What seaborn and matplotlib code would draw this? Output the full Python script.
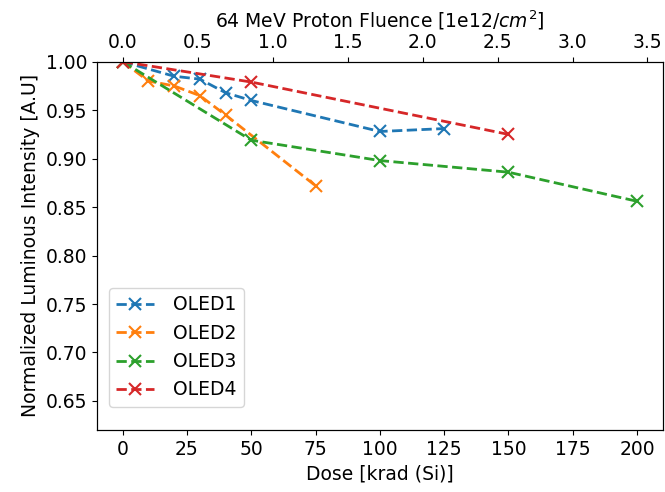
import matplotlib
matplotlib.use("Agg")
import matplotlib.pyplot as plt
import seaborn as sns
import pandas as pd

# Data
oled1_dose = [0, 20, 30, 40, 50, 100, 125]
oled1_val = [1.000, 0.985, 0.982, 0.968, 0.960, 0.928, 0.931]
oled2_dose = [0, 10, 20, 30, 40, 75]
oled2_val = [1.000, 0.980, 0.975, 0.965, 0.945, 0.872]
oled3_dose = [0, 50, 100, 150, 200]
oled3_val = [1.000, 0.919, 0.898, 0.886, 0.856]
oled4_dose = [0, 50, 150]
oled4_val = [1.000, 0.979, 0.925]
labels = ["OLED1", "OLED2", "OLED3", "OLED4"]
fluence_per_krad = 0.01715

sns.set_style("ticks", {"axes.edgecolor": "black", "text.color": "black",
                        "axes.labelcolor": "black", "xtick.color": "black",
                        "ytick.color": "black"})
plt.rcParams["font.family"] = ["DejaVu Sans"]
plt.rcParams["font.size"] = 13.5

fig = plt.figure(figsize=(6.65, 4.92), dpi=100)
ax = fig.add_axes([97/665, 1-430/492, (662.7-97)/665, (430-61.7)/492])

frames = []
for lab, d, v in zip(labels, [oled1_dose, oled2_dose, oled3_dose, oled4_dose],
                     [oled1_val, oled2_val, oled3_val, oled4_val]):
    frames.append(pd.DataFrame({"dose": d, "val": v, "device": lab}))
df = pd.concat(frames, ignore_index=True)

palette = sns.color_palette("tab10", 4)
for lab, col in zip(labels, palette):
    sub = df[df.device == lab]
    sns.lineplot(data=sub, x="dose", y="val", ax=ax, color=col, linestyle="--",
                 marker="x", markersize=8, markeredgewidth=1.5, linewidth=2,
                 label=lab, markeredgecolor=col)

ax.set_xlim(-10, 210)
ax.set_ylim(0.62, 1.0)
ax.set_xticks([0, 25, 50, 75, 100, 125, 150, 175, 200])
ax.set_yticks([0.65, 0.70, 0.75, 0.80, 0.85, 0.90, 0.95, 1.00])
ax.set_yticklabels([f"{t:.2f}" for t in ax.get_yticks()])
ax.set_xlabel("Dose [krad (Si)]")
ax.set_ylabel("Normalized Luminous Intensity [A.U]")
for s in ax.spines.values():
    s.set_visible(True)
    s.set_color("black")

leg = ax.legend(loc="lower left", bbox_to_anchor=(0.021, 0.0625), borderaxespad=0,
                frameon=True, fontsize=13.5, handletextpad=1.0)
leg.get_frame().set_edgecolor("#cccccc")

ax2 = ax.twiny()
lo, hi = ax.get_xlim()
ax2.set_xlim(lo * fluence_per_krad, hi * fluence_per_krad)
ax2.set_xticks([0.0, 0.5, 1.0, 1.5, 2.0, 2.5, 3.0, 3.5])
ax2.set_xticklabels(["0.0", "0.5", "1.0", "1.5", "2.0", "2.5", "3.0", "3.5"])
ax2.set_xlabel("64 MeV Proton Fluence [1e12/$cm^2$]")
for s in ax2.spines.values():
    s.set_color("black")

fig.savefig("out.png", dpi=100)
